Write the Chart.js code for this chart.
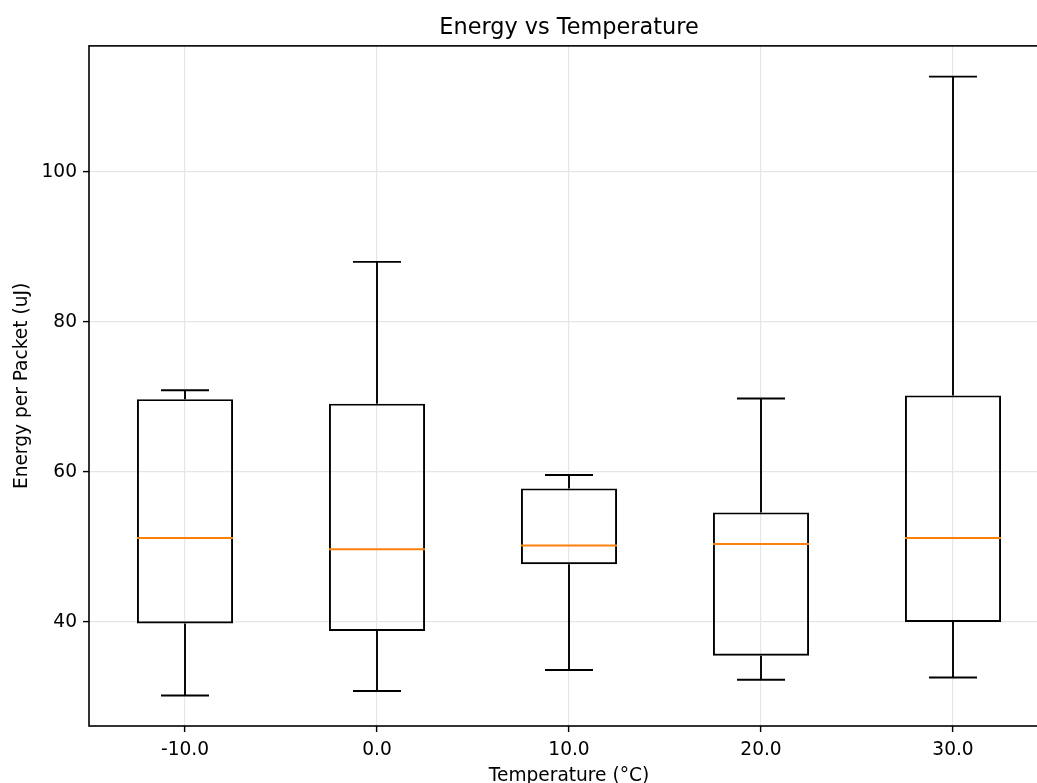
<!DOCTYPE html>
<html>
<head>
<meta charset="utf-8">
<script src="https://cdn.jsdelivr.net/npm/chart.js@4/dist/chart.umd.min.js"></script>
<style>
html, body { margin: 0; padding: 0; background: #fff; overflow: hidden; }
canvas { display: block; }
</style>
</head>
<body>
<canvas id="boxChart" width="1138" height="783" style="width:1138px;height:783px"></canvas>
<script>
// box plot stats per temperature
const temperatures = [-10, 0, 10, 20, 30];
const whiskerLow = [30.2, 30.8, 33.6, 32.3, 32.6];
const q1 = [39.8, 38.8, 47.7, 35.5, 40.0];
const medians = [51.2, 49.7, 50.2, 50.4, 51.2];
const q3 = [69.7, 69.1, 57.8, 54.6, 70.2];
const whiskerHigh = [70.9, 88.0, 59.6, 69.8, 112.7];
const yTicks = [40, 60, 80, 100];

const FONT = 'DejaVu Sans';

// whiskers, caps, medians and the frame, drawn on the chart scales
const boxPlotLines = {
    id: 'boxPlotLines',
    afterDatasetsDraw(chart) {
        const { ctx, chartArea, scales: { x, y } } = chart;
        ctx.save();
        ctx.lineWidth = 1.9;
        ctx.lineCap = 'butt';
        temperatures.forEach((t, i) => {
            const cx = x.getPixelForValue(t);
            const capL = x.getPixelForValue(t - 1.25);
            const capR = x.getPixelForValue(t + 1.25);
            const boxL = x.getPixelForValue(t - 2.5);
            const boxR = x.getPixelForValue(t + 2.5);
            ctx.strokeStyle = '#000';
            ctx.beginPath();
            ctx.moveTo(cx, y.getPixelForValue(q1[i]));
            ctx.lineTo(cx, y.getPixelForValue(whiskerLow[i]));
            ctx.moveTo(cx, y.getPixelForValue(q3[i]));
            ctx.lineTo(cx, y.getPixelForValue(whiskerHigh[i]));
            ctx.moveTo(capL, y.getPixelForValue(whiskerLow[i]));
            ctx.lineTo(capR, y.getPixelForValue(whiskerLow[i]));
            ctx.moveTo(capL, y.getPixelForValue(whiskerHigh[i]));
            ctx.lineTo(capR, y.getPixelForValue(whiskerHigh[i]));
            ctx.stroke();
            ctx.strokeStyle = '#ff7f0e';
            ctx.beginPath();
            ctx.moveTo(boxL, y.getPixelForValue(medians[i]));
            ctx.lineTo(boxR, y.getPixelForValue(medians[i]));
            ctx.stroke();
        });
        ctx.strokeStyle = '#000';
        ctx.lineWidth = 1.6;
        ctx.strokeRect(chartArea.left, chartArea.top, chartArea.right - chartArea.left, chartArea.bottom - chartArea.top);
        ctx.restore();
    }
};

const ctx = document.getElementById('boxChart').getContext('2d');
const boxChart = new Chart(ctx, {
    type: 'bar',
    data: {
        datasets: [{
            label: 'Energy',
            data: temperatures.map((t, i) => ({ x: t, y: [q1[i], q3[i]] })),
            backgroundColor: 'rgba(0,0,0,0)',
            borderColor: '#000',
            borderWidth: 1.9,
            borderSkipped: false,
            categoryPercentage: 1,
            barPercentage: 0.5
        }]
    },
    options: {
        responsive: false,
        animation: false,
        devicePixelRatio: 1,
        layout: { padding: 0 },
        plugins: {
            legend: { display: false },
            tooltip: { enabled: false },
            title: {
                display: true,
                text: 'Energy vs Temperature',
                color: '#000',
                font: { family: FONT, size: 22.4, weight: 'normal', lineHeight: 1.2 },
                padding: { top: 15, bottom: 4 }
            }
        },
        scales: {
            x: {
                type: 'linear',
                min: -15,
                max: 35,
                offset: false,
                afterFit: s => { s.height = 57; },
                afterBuildTicks: s => { s.ticks = temperatures.map(v => ({ value: v })); },
                grid: { offset: false, color: '#e6e6e6', lineWidth: 1.2, drawTicks: true, tickLength: 6, tickColor: '#000', tickWidth: 1.4 },
                border: { display: false },
                ticks: {
                    color: '#000',
                    padding: 7,
                    maxRotation: 0,
                    font: { family: FONT, size: 18.6 },
                    callback: v => v.toFixed(1)
                },
                title: {
                    display: true,
                    text: 'Temperature (°C)',
                    color: '#000',
                    font: { family: FONT, size: 18.6, lineHeight: 1 },
                    padding: { top: 0, bottom: -2 }
                }
            },
            y: {
                min: 26.13,
                max: 116.8,
                afterFit: s => { s.width = 89; },
                afterBuildTicks: s => { s.ticks = yTicks.map(v => ({ value: v })); },
                grid: { color: '#e6e6e6', lineWidth: 1.2, drawTicks: true, tickLength: 6, tickColor: '#000', tickWidth: 1.4 },
                border: { display: false },
                ticks: {
                    color: '#000',
                    padding: 6,
                    font: { family: FONT, size: 18.6 }
                },
                title: {
                    display: true,
                    text: 'Energy per Packet (uJ)',
                    color: '#000',
                    font: { family: FONT, size: 18.6, lineHeight: 1.2 },
                    padding: { top: 11, bottom: 0 }
                }
            },
            // empty right-hand axis so the plot sits centred under the title
            yRight: {
                position: 'right',
                display: true,
                afterFit: s => { s.width = 89; },
                grid: { display: false },
                border: { display: false },
                ticks: { display: false }
            }
        }
    },
    plugins: [boxPlotLines]
});
</script>
</body>
</html>
